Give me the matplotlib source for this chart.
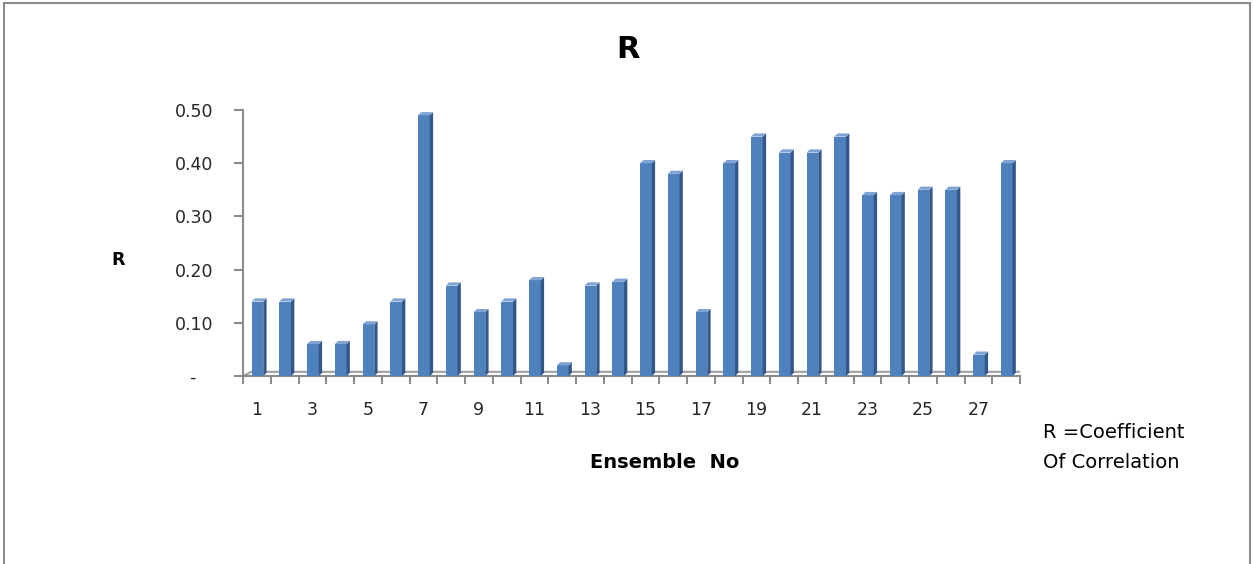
import matplotlib.pyplot as plt
from matplotlib.patches import Polygon, Rectangle

# Ensemble numbers and correlation coefficients
ensembles = list(range(1, 29))
r_values = [0.14, 0.14, 0.06, 0.06, 0.097, 0.14, 0.49, 0.17, 0.12, 0.14,
            0.18, 0.02, 0.17, 0.177, 0.40, 0.38, 0.12, 0.40, 0.45, 0.42,
            0.42, 0.45, 0.34, 0.34, 0.35, 0.35, 0.04, 0.40]
y_ticks = [0.0, 0.1, 0.2, 0.3, 0.4, 0.5]
y_ticklabels = ['-   ', '0.10', '0.20', '0.30', '0.40', '0.50']
x_ticklabels = [str(n) if n % 2 == 1 else '' for n in ensembles]

plt.rcParams['font.family'] = ['DejaVu Sans']

fig = plt.figure(figsize=(12.54, 5.64), dpi=100)
ax = fig.add_axes([243 / 1254, 1 - 376 / 564, 777 / 1254, 266 / 564])

front = '#4F81BD'
side = '#34578A'
top = '#7FA3D2'
grey = '#8C8C8C'

xs = [i for i in range(len(ensembles))]
bw = 0.42
dx = 0.12
dy = 0.006

# floor (drawn behind bars)
x0, x1 = -0.5, len(ensembles) - 0.5
ax.add_patch(Polygon([(x0, 0), (x1, 0), (x1 + 0.3, dy * 1.3), (x0 + 0.3, dy * 1.3)],
                     closed=True, facecolor='white', edgecolor='#A0A0A0', lw=1.5, zorder=1))

bars = ax.bar([x + 0.02 for x in xs], r_values, width=bw, color=front,
              edgecolor='none', zorder=3)
for b in bars:
    left = b.get_x()
    right = left + b.get_width()
    h = b.get_height()
    ax.add_patch(Polygon([(right, 0), (right + dx, dy), (right + dx, h + dy), (right, h)],
                         closed=True, facecolor=side, edgecolor='none', zorder=3))
    ax.add_patch(Polygon([(left, h), (right, h), (right + dx, h + dy), (left + dx, h + dy)],
                         closed=True, facecolor=top, edgecolor='none', zorder=3))

ax.set_xlim(x0, x1)
ax.set_ylim(0, 0.5)
for s in ['top', 'right', 'bottom']:
    ax.spines[s].set_visible(False)
ax.spines['left'].set_color(grey)
ax.spines['left'].set_linewidth(1.5)

ax.set_yticks(y_ticks)
ax.set_yticklabels(y_ticklabels, fontsize=12.5, color='#262626')
ax.tick_params(axis='y', length=6.5, width=1.5, color=grey, pad=15)

# x ticks between categories, labels at category centres
ax.set_xticks([x - 0.5 for x in xs] + [x1], minor=True)
ax.set_xticks(xs)
ax.set_xticklabels(x_ticklabels, fontsize=12.5, color='#262626')
ax.tick_params(axis='x', which='major', length=0, pad=18)
ax.tick_params(axis='x', which='minor', length=6, width=1.5, color=grey)
ax.axhline(0, color=grey, lw=1.5, zorder=2, clip_on=False)

fig.text(628 / 1254, 1 - 50 / 564, 'R', fontsize=22, fontweight='bold',
         ha='center', va='center')
fig.text(118 / 1254, 1 - 260 / 564, 'R', fontsize=12.5, fontweight='bold',
         ha='center', va='center')
fig.text(665 / 1254, 1 - 463 / 564, 'Ensemble  No', fontsize=14, fontweight='bold',
         ha='center', va='center')
fig.text(1043 / 1254, 1 - 433 / 564, 'R =Coefficient', fontsize=14,
         ha='left', va='center')
fig.text(1043 / 1254, 1 - 462 / 564, 'Of Correlation', fontsize=14,
         ha='left', va='center')

# outer chart border
fig.patches.append(Rectangle((4 / 1254, -0.05), 1246 / 1254, 1.05 - 3 / 564,
                             transform=fig.transFigure, fill=False,
                             edgecolor='#8C8C8C', lw=1.5))

fig.savefig('out.png', dpi=100)
